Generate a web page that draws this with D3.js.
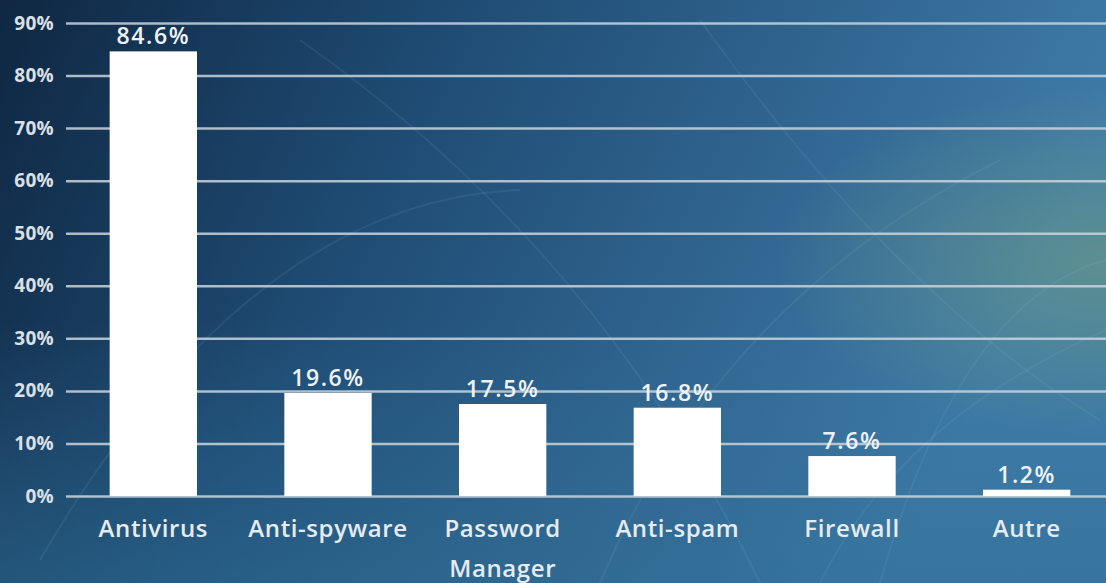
<!DOCTYPE html>
<html>
<head>
<meta charset="utf-8">
<script src="https://cdn.jsdelivr.net/npm/d3@7"></script>
<style>
  html, body { margin: 0; padding: 0; background: #163a5c; }
  svg { display: block; }
</style>
</head>
<body>
<div id="chart"></div>
<script>
// data
var categories = ["Antivirus", "Anti-spyware", "Password Manager", "Anti-spam", "Firewall", "Autre"];
var values = [84.6, 19.6, 17.5, 16.8, 7.6, 1.2];
var tickValues = [0, 10, 20, 30, 40, 50, 60, 70, 80, 90];

var width = 1106, height = 583;

var svg = d3.select("#chart")
    .append("svg")
    .attr("width", width)
    .attr("height", height);

var defs = svg.append("defs");

// background: navy on the left, lighter blue to the right
var lg = defs.append("linearGradient").attr("id", "bg")
    .attr("x1", "0").attr("y1", "0").attr("x2", "1").attr("y2", "0.25");
lg.append("stop").attr("offset", "0").attr("stop-color", "#0f2742");
lg.append("stop").attr("offset", "0.4").attr("stop-color", "#1f4c74");
lg.append("stop").attr("offset", "1").attr("stop-color", "#3f7ba8");

var glow = defs.append("radialGradient").attr("id", "glow")
    .attr("cx", "1").attr("cy", "0.45").attr("r", "0.3");
glow.append("stop").attr("offset", "0").attr("stop-color", "#7aa47a").attr("stop-opacity", 0.5);
glow.append("stop").attr("offset", "1").attr("stop-color", "#7aa47a").attr("stop-opacity", 0);

var bottom = defs.append("linearGradient").attr("id", "bottom")
    .attr("x1", "0").attr("y1", "0").attr("x2", "0").attr("y2", "1");
bottom.append("stop").attr("offset", "0.55").attr("stop-color", "#2f6f96").attr("stop-opacity", 0);
bottom.append("stop").attr("offset", "1").attr("stop-color", "#2f6f96").attr("stop-opacity", 0.5);

svg.append("rect").attr("width", width).attr("height", height).attr("fill", "url(#bg)");
svg.append("rect").attr("width", width).attr("height", height).attr("fill", "url(#bottom)");
svg.append("rect").attr("width", width).attr("height", height).attr("fill", "url(#glow)");

// a few faint streaks in the background
var arcs = [
    "M 40 560 Q 250 200 520 190",
    "M 700 20 Q 900 300 1100 420",
    "M 600 583 Q 720 300 1000 160",
    "M 820 583 Q 900 420 1106 330",
    "M 300 40 Q 600 250 760 583",
    "M 880 583 Q 960 300 1106 260"
];
svg.append("g").selectAll("path")
    .data(arcs)
    .join("path")
    .attr("d", function(d) { return d; })
    .attr("fill", "none")
    .attr("stroke", "#9fc3dc")
    .attr("stroke-opacity", 0.1)
    .attr("stroke-width", 2);

var x = d3.scaleBand()
    .domain(categories)
    .range([66, 1114])
    .paddingInner(0.5)
    .paddingOuter(0.25);

var y = d3.scaleLinear()
    .domain([0, 90])
    .range([496, 23]);

// gridlines
var yAxis = d3.axisLeft(y)
    .tickValues(tickValues)
    .tickSize(-(width - 66))
    .tickPadding(12)
    .tickFormat(function(d) { return d + "%"; });

var gy = svg.append("g")
    .attr("transform", "translate(66,0)")
    .call(yAxis);

gy.select(".domain").remove();
gy.selectAll(".tick line")
    .attr("stroke", "#c9d3dc")
    .attr("stroke-width", 2.5)
    .attr("stroke-opacity", 0.85);
gy.selectAll(".tick text")
    .attr("fill", "#d9e0e7")
    .attr("font-family", "'Open Sans', sans-serif")
    .attr("font-weight", 700)
    .attr("font-size", 19)
    .attr("letter-spacing", 0.3);

// bars
svg.append("g").selectAll("rect")
    .data(values)
    .join("rect")
    .attr("x", function(d, i) { return x(categories[i]); })
    .attr("y", function(d) { return y(d); })
    .attr("width", x.bandwidth())
    .attr("height", function(d) { return y(0) - y(d); })
    .attr("fill", "#ffffff");

// value labels
svg.append("g").selectAll("text")
    .data(values)
    .join("text")
    .attr("x", function(d, i) { return x(categories[i]) + x.bandwidth() / 2; })
    .attr("y", function(d) { return y(d) - 7; })
    .attr("text-anchor", "middle")
    .attr("fill", "#eef2f5")
    .attr("font-family", "'Open Sans', sans-serif")
    .attr("font-weight", 600)
    .attr("font-size", 23)
    .attr("letter-spacing", 1.6)
    .text(function(d) { return d.toFixed(1) + "%"; });

// category labels, wrapped on the space for "Password Manager"
var labels = svg.append("g").selectAll("text")
    .data(categories)
    .join("text")
    .attr("x", function(d) { return x(d) + x.bandwidth() / 2; })
    .attr("y", 537)
    .attr("text-anchor", "middle")
    .attr("fill", "#e6ebef")
    .attr("font-family", "'Open Sans', sans-serif")
    .attr("font-weight", 600)
    .attr("font-size", 24)
    .attr("letter-spacing", 0.6);

labels.each(function(d) {
    var words = d == "Password Manager" ? d.split(" ") : [d];
    var t = d3.select(this);
    words.forEach(function(w, k) {
        t.append("tspan")
            .attr("x", t.attr("x"))
            .attr("dy", k == 0 ? 0 : 40)
            .text(w);
    });
});
</script>
</body>
</html>
